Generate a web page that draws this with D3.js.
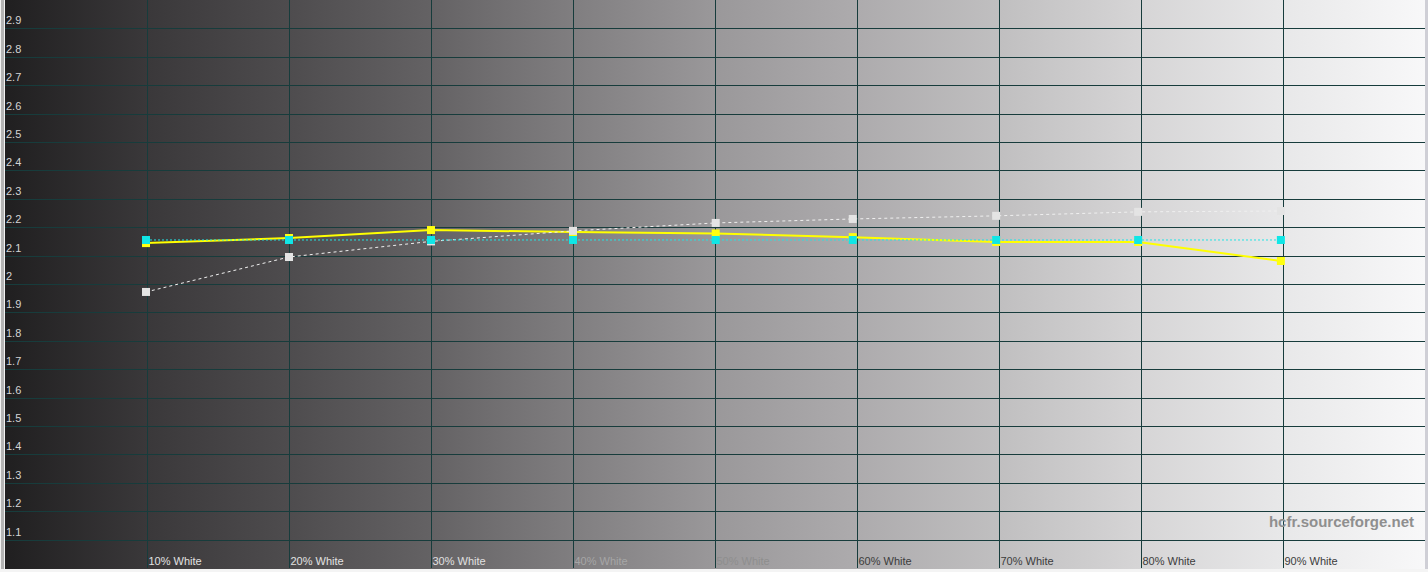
<!doctype html>
<html lang="en">
<head>
<meta charset="UTF-8">
<title>Gamma</title>
<script src="https://cdnjs.cloudflare.com/ajax/libs/d3/7.8.5/d3.min.js"></script>
<style>
    html, body { margin: 0; padding: 0; background: #f4f4f4; overflow: hidden; }
    svg { display: block; font-family: "Liberation Sans", Arial, sans-serif; }
</style>
</head>
<body>
<svg id="chart" width="1428" height="572"></svg>
<script>
var levels = [10, 20, 30, 40, 50, 60, 70, 80, 90];
var measuredLevels = [9.93, 20, 30, 40, 50.05, 59.7, 69.8, 79.8, 89.85];
var gammaMeasured = [2.144, 2.162, 2.190, 2.183, 2.178, 2.165, 2.148, 2.148, 2.081];
var gammaTarget = [2.155, 2.155, 2.155, 2.155, 2.155, 2.155, 2.155, 2.155, 2.155];
var gammaReference = [1.972, 2.095, 2.150, 2.187, 2.215, 2.229, 2.240, 2.254, 2.257];
var yTicks = [1.1, 1.2, 1.3, 1.4, 1.5, 1.6, 1.7, 1.8, 1.9, 2.0, 2.1, 2.2, 2.3, 2.4, 2.5, 2.6, 2.7, 2.8, 2.9];
var xLabelColors = ['#e2e2e2', '#e2e2e2', '#e0e0e0', '#a6a6a6', '#8e8e8e', '#3c3c3c', '#3c3c3c', '#3c3c3c', '#3c3c3c'];

var svg = d3.select('#chart');
var plotL = 5, plotR = 1425, plotT = 0, plotB = 568;

var x = d3.scaleLinear().domain([0, 100]).range([plotL, plotR]);
var y = d3.scaleLinear().domain([1, 3]).range([plotB, plotT]);

// background gradient
var grad = svg.append('defs').append('linearGradient')
    .attr('id', 'bg').attr('x1', '0%').attr('x2', '100%').attr('y1', '0%').attr('y2', '0%');
var stops = ['#201f20', '#3a383a', '#4e4c4e', '#646264', '#807e80', '#9a989a',
             '#adabad', '#c0bfc0', '#d6d5d6', '#e8e8e9', '#f8f8f9'];
stops.forEach(function (c, i) {
    grad.append('stop').attr('offset', (i * 10) + '%').attr('stop-color', c);
});

svg.append('rect').attr('x', 0).attr('y', 0).attr('width', 1428).attr('height', 572).attr('fill', '#f2f2f2');
svg.append('rect').attr('x', plotL).attr('y', plotT).attr('width', plotR - plotL).attr('height', plotB - plotT + 1)
    .attr('fill', 'url(#bg)');
svg.append('rect').attr('x', 1).attr('y', 0).attr('width', 3).attr('height', 569).attr('fill', '#b4b4b4');
svg.append('rect').attr('x', plotR).attr('y', 0).attr('width', 3).attr('height', 569).attr('fill', '#cfcfd6');

// horizontal grid + labels
var gy = svg.append('g')
    .attr('transform', 'translate(' + plotL + ',0)')
    .call(d3.axisRight(y).tickValues(yTicks).tickSize(plotR - plotL)
        .tickFormat(function (d) { return String(+d.toFixed(1)); }));
gy.select('.domain').remove();
gy.selectAll('line').attr('stroke', '#173c3c').attr('shape-rendering', 'crispEdges');
gy.selectAll('text')
    .attr('x', 1).attr('y', -8)
    .attr('fill', '#d4d4d4')
    .attr('font-size', 11)
    .attr('font-family', '"Liberation Sans", Arial, sans-serif')
    .attr('text-anchor', 'start');

// vertical grid + labels
var gx = svg.append('g')
    .attr('transform', 'translate(0,' + plotB + ')')
    .call(d3.axisBottom(x).tickValues(levels).tickSize(-(plotB - plotT))
        .tickFormat(function (d) { return d + '% White'; }));
gx.select('.domain').remove();
gx.selectAll('line').attr('stroke', '#173c3c').attr('shape-rendering', 'crispEdges');
gx.selectAll('text')
    .attr('x', 1).attr('y', -11)
    .attr('font-size', 11)
    .attr('font-family', '"Liberation Sans", Arial, sans-serif')
    .attr('text-anchor', 'start')
    .attr('fill', function (d, i) { return xLabelColors[i]; });

svg.append('rect').attr('x', 0).attr('y', 569).attr('width', 1428).attr('height', 3).attr('fill', '#f4f4f4');

// watermark
svg.append('text')
    .attr('x', 1414).attr('y', 527)
    .attr('text-anchor', 'end')
    .attr('font-size', 15)
    .attr('font-weight', 'bold')
    .attr('font-family', '"Liberation Sans", Arial, sans-serif')
    .attr('fill', '#8f8f8f')
    .text('hcfr.sourceforge.net');

function series(values, color, width, dash, marker) {
    var pts = values.map(function (v, i) { return [measuredLevels[i], v]; });
    var line = d3.line().x(function (d) { return x(d[0]); }).y(function (d) { return y(d[1]); });
    svg.append('path').datum(pts)
        .attr('d', line)
        .attr('fill', 'none')
        .attr('stroke', color)
        .attr('stroke-width', width)
        .attr('stroke-dasharray', dash);
    svg.selectAll(null).data(pts).enter().append('rect')
        .attr('x', function (d) { return x(d[0]) - 4; })
        .attr('y', function (d) { return y(d[1]) - 4; })
        .attr('width', 8).attr('height', 8)
        .attr('fill', marker);
}

series(gammaMeasured, '#ffff00', 2, null, '#ffff10');
series(gammaReference, '#f0f0f0', 1, '3,3', '#e4e4e4');
series(gammaTarget, '#22e4e4', 1, '2,2', '#10e6e6');
</script>
</body>
</html>
